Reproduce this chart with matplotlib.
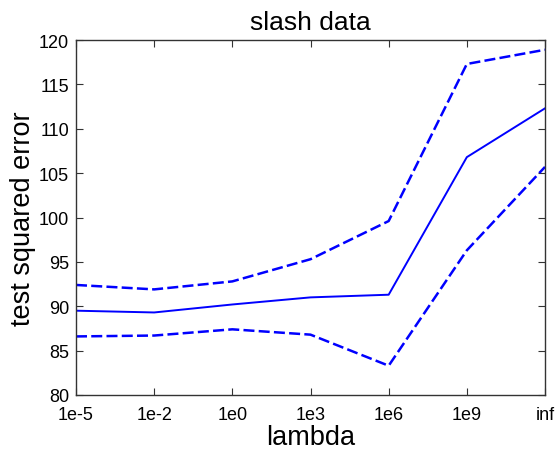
import matplotlib
matplotlib.use("Agg")
import matplotlib.pyplot as plt

# x positions are just the index of each lambda value
lambdas = ['1e-5', '1e-2', '1e0', '1e3', '1e6', '1e9', 'inf']
mean_err = [89.5, 89.3, 90.2, 91.0, 91.3, 106.8, 112.3]
upper_err = [92.4, 91.9, 92.8, 95.3, 99.6, 117.3, 118.9]
lower_err = [86.6, 86.7, 87.4, 86.8, 83.3, 96.3, 105.7]

plt.rcParams['font.family'] = ['Liberation Sans', 'DejaVu Sans']

x = list(range(1, len(lambdas) + 1))

fig = plt.figure(figsize=(5.56, 4.52), dpi=100)
ax = fig.add_axes([76/556, 1 - 396/452, (545-76)/556, (396-41)/452])

ax.plot(x, mean_err, color='blue', lw=1.4)
ax.plot(x, upper_err, color='blue', lw=1.8, dashes=(4.4, 1.7))
ax.plot(x, lower_err, color='blue', lw=1.8, dashes=(4.4, 1.7))

ax.set_xlim(1, 7)
ax.set_ylim(80, 120)
ax.set_xticks(x)
ax.set_xticklabels(lambdas)
ax.set_yticks(range(80, 121, 5))

ax.tick_params(direction='in', top=True, right=True, labelsize=13,
               length=5, color='#333333')
ax.tick_params(axis='x', pad=8)
ax.tick_params(axis='y', pad=5)
for s in ax.spines.values():
    s.set_color('#333333')
    s.set_linewidth(1.0)

ax.set_title('slash data', fontsize=19, pad=8)
ax.set_xlabel('lambda', fontsize=19.5, labelpad=1)
ax.set_ylabel('test squared error', fontsize=19.5, labelpad=2)

fig.savefig('out.png', dpi=100)
